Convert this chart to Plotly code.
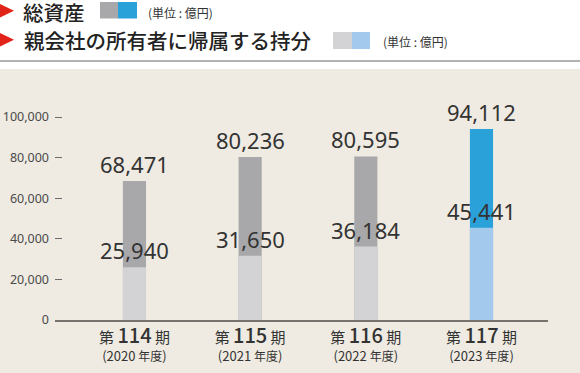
import plotly.graph_objects as go

# ---- data ----
period_nums = ["114", "115", "116", "117"]
fiscal_years = ["2020", "2021", "2022", "2023"]
total_assets = [68471, 80236, 80595, 94112]
equity = [25940, 31650, 36184, 45441]
y_ticks = [0, 20000, 40000, 60000, 80000, 100000]
y_tick_labels = ["0", "20,000", "40,000", "60,000", "80,000", "100,000"]
total_colors = ["#a8a8ab", "#a8a8ab", "#a8a8ab", "#2ba1da"]
equity_colors = ["#d3d3d6", "#d3d3d6", "#d3d3d6", "#a3caec"]

W, H = 580, 373
ML, MR, MT, MB = 55, 32, 100, 53
PW, PH = W - ML - MR, H - MT - MB


def px(x):
    return (x - ML) / PW


def py(y):
    return (H - MB - y) / PH


xs = list(range(len(period_nums)))
ticktext = [
    f"<span style='font-size:15px'>第 </span><span style='font-size:20px;font-weight:500'>{n}</span>"
    f"<span style='font-size:15px'> 期</span><br>"
    f"<span style='font-size:13px'>({y} </span><span style='font-size:12px'>年度</span>"
    f"<span style='font-size:13px'>)</span>"
    for n, y in zip(period_nums, fiscal_years)
]

fig = go.Figure()
fig.add_trace(go.Bar(x=xs, y=total_assets, width=0.2, marker=dict(color=total_colors, line=dict(width=0)),
                     hoverinfo="skip"))
fig.add_trace(go.Bar(x=xs, y=equity, width=0.2, marker=dict(color=equity_colors, line=dict(width=0)),
                     hoverinfo="skip"))

annotations = []
num_font = dict(family="Noto Sans, Open Sans, sans-serif", size=22, color="#333333")
for i, (t, e) in enumerate(zip(total_assets, equity)):
    annotations.append(dict(x=i, y=t, xref="x", yref="y", text=f"{t:,}", showarrow=False,
                            yanchor="bottom", xanchor="center", font=num_font, yshift=0))
    annotations.append(dict(x=i, y=e, xref="x", yref="y", text=f"{e:,}", showarrow=False,
                            yanchor="bottom", xanchor="center", font=num_font, yshift=0))

jp = "Noto Sans CJK JP"
title_font = dict(family=jp, size=20.5, color="#222222", weight=500)
unit_font = dict(family=jp, size=12, color="#333333")
annotations += [
    dict(x=px(22), y=py(12), xref="paper", yref="paper", text="総資産", showarrow=False,
         xanchor="left", yanchor="middle", font=title_font, height=24, borderpad=0, valign="middle"),
    dict(x=px(22), y=py(40.5), xref="paper", yref="paper", text="親会社の所有者に帰属する持分", showarrow=False,
         xanchor="left", yanchor="middle", font=title_font),
    dict(x=px(146), y=py(12), xref="paper", yref="paper", text="(単位 : 億円)", showarrow=False,
         xanchor="left", yanchor="middle", font=unit_font),
    dict(x=px(381), y=py(42), xref="paper", yref="paper", text="(単位 : 億円)", showarrow=False,
         xanchor="left", yanchor="middle", font=unit_font),
]


def rect(x0, y0, x1, y1, color, layer="above"):
    return dict(type="rect", xref="paper", yref="paper", x0=px(x0), x1=px(x1), y0=py(y0), y1=py(y1),
                fillcolor=color, line=dict(width=0), layer=layer)


def tri(x0, y0, x1, y1, color):
    ym = (y0 + y1) / 2
    return dict(type="path", xref="paper", yref="paper",
                path=f"M {px(x0)} {py(y0)} L {px(x1)} {py(ym)} L {px(x0)} {py(y1)} Z",
                fillcolor=color, line=dict(width=0))


shapes = [
    rect(0, 69, W, H, "#efebe2", layer="below"),
    dict(type="line", xref="paper", yref="paper", x0=px(0), x1=px(W), y0=py(61), y1=py(61),
         line=dict(color="#9a9a9a", width=1.5)),
    tri(0, 4, 14, 17.5, "#e2231a"),
    tri(0, 33, 14, 46.5, "#e2231a"),
    rect(100, 2, 118, 18.5, total_colors[0]),
    rect(118, 2, 137, 18.5, total_colors[3]),
    rect(333, 32, 352, 49, equity_colors[0]),
    rect(352, 32, 370, 49, equity_colors[3]),
]

fig.update_layout(
    width=W, height=H,
    margin=dict(l=ML, r=MR, t=MT, b=MB, pad=0, autoexpand=False),
    paper_bgcolor="#ffffff", plot_bgcolor="rgba(0,0,0,0)",
    barmode="overlay", showlegend=False,
    annotations=annotations, shapes=shapes,
    xaxis=dict(range=[-0.687, 3.575], tickvals=xs, ticktext=ticktext, showgrid=False, zeroline=False,
               showline=True, linecolor="#77726d", linewidth=2, ticks="", automargin=False,
               tickfont=dict(family=jp, size=14, color="#333333"), ticklabelstandoff=4, fixedrange=True),
    yaxis=dict(range=[0, PH / 203 * 100000], tickvals=y_ticks, ticktext=y_tick_labels, showgrid=False,
               zeroline=False, showline=False, ticks="inside", ticklen=7, tickwidth=1, tickcolor="#6b6b6b",
               automargin=False,
               tickfont=dict(family="Liberation Sans Narrow, Noto Sans, sans-serif", size=12.5, color="#4a4a4a"),
               ticklabelstandoff=5, fixedrange=True),
)

fig.write_html("out.html", config=dict(displayModeBar=False),
               post_script="document.body.style.margin='0px';document.body.style.overflow='hidden';")
